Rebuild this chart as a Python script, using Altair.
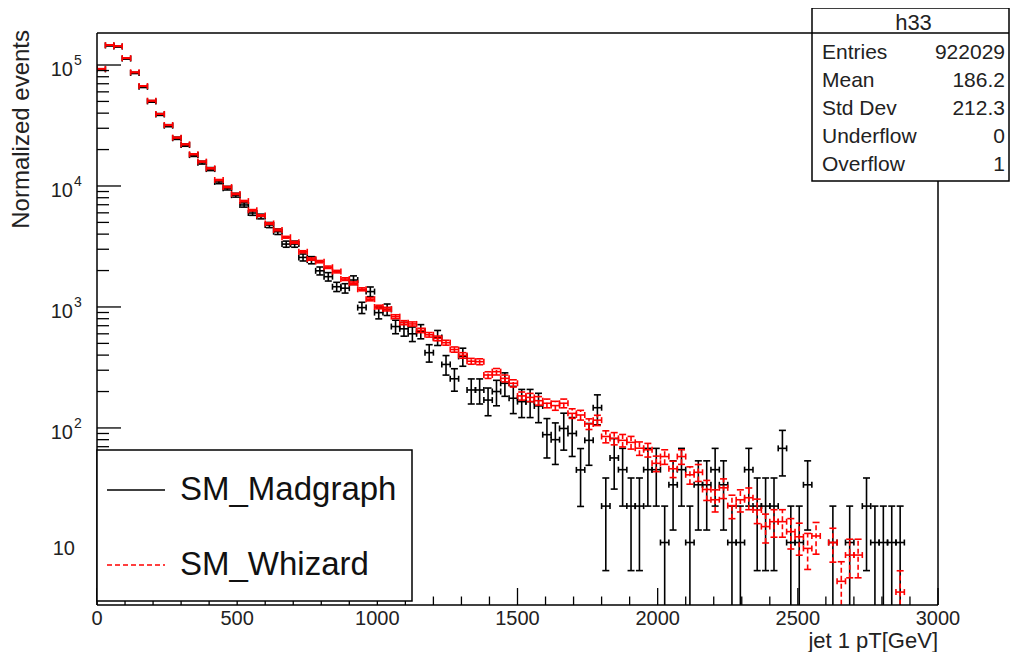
import math
import altair as alt
import pandas as pd

FONT = "Liberation Sans"

# ---------------- data ----------------
BIN_W = 30
centers = [15 + BIN_W * i for i in range(100)]

madgraph = [
    9.2e4, 1.45e5, 1.42e5, 1.13e5, 8.6e4, 6.6e4, 5.0e4, 3.9e4, 3.15e4, 2.48e4,
    2.18e4, 1.80e4, 1.56e4, 1.38e4, 1.08e4, 9.6e3, 8.4e3, 6.97e3, 5.98e3, 5.6e3,
    4.76e3, 4.19e3, 3.31e3, 3.31e3, 2.57e3, 2.44e3, 1.99e3, 1.78e3, 1.47e3, 1.43e3,
    1.67e3, 988, 1.34e3, 898, 954, 689, 660, 600, 630, 419,
    560, 335, 255, 390, 206, 206, 170, 200, 234, 176,
    165, 165, 152, 88, 80, 99, 90, 45, 79, 147,
    22.6, 56.5, 45.2, 22.6, 22.6, 45.2, 45.2, 11.3, 33.9, 45.2,
    11.3, 33.9, 33.9, 45.2, 33.9, 11.3, 11.3, 45.2, 22.6, 22.6,
    22.6, 67.8, 11.3, 11.3, 33.9, 0, 0, 11.3, 0, 11.3,
    0, 22.6, 11.3, 11.3, 11.3, 11.3, 0, 0, 0, 0,
]

whizard = [
    9.3e4, 1.46e5, 1.43e5, 1.14e5, 8.7e4, 6.7e4, 5.07e4, 3.94e4, 3.19e4, 2.51e4,
    2.21e4, 1.83e4, 1.59e4, 1.40e4, 1.12e4, 9.8e3, 8.6e3, 7.5e3, 6.3e3, 5.7e3,
    4.9e3, 4.33e3, 3.77e3, 3.42e3, 2.86e3, 2.49e3, 2.37e3, 2.13e3, 1.96e3, 1.70e3,
    1.57e3, 1.40e3, 1.16e3, 1.0e3, 960, 832, 742, 724, 640, 589,
    550, 507, 445, 398, 356, 353, 274, 292, 257, 234,
    184, 179, 168, 160, 153, 160, 132, 128, 108, 116,
    85, 82, 79, 76, 68, 66, 51, 58, 46, 58,
    41, 43, 31, 25.5, 32, 22.8, 25.5, 26.5, 21, 15.3,
    16.8, 16.8, 13.9, 12.6, 10.1, 12.8, 0, 11.3, 5.4, 8.9,
    8.9, 0, 0, 0, 0, 4.4, 0, 0, 0, 0,
]

W_MAD = 11.3   # per-event weight (error = sqrt(N) * w)
W_WHI = 1.1

x_major = [0, 500, 1000, 1500, 2000, 2500, 3000]
x_major_labels = ["0", "500", "1000", "1500", "2000", "2500", "3000"]
x_minor = [v for v in range(100, 3000, 100) if v % 500 != 0]
y_major = [10, 100, 1000, 10000, 100000]
y_exp = ["", "2", "3", "4", "5"]
y_minor = [m * 10 ** k for k in range(0, 5) for m in range(2, 10) if 3.44 <= m * 10 ** k <= 1.8e5]

stat_names = ["Entries", "Mean", "Std Dev", "Underflow", "Overflow"]
stat_values = ["922029", "186.2", "212.3", "0", "1"]

# ---------------- geometry ----------------
W, H = 841, 572
xscale = alt.Scale(domain=[0, 3000], nice=False, zero=False)
yscale = alt.Scale(type="log", domain=[3.44, 1.839e5], nice=False)


def series_df(vals, w):
    rows = []
    for c, v in zip(centers, vals):
        if v <= 0:
            continue
        e = math.sqrt(v * w)
        lo = v - e
        rows.append(dict(x=c, xl=c - BIN_W / 2, xr=c + BIN_W / 2, v=v,
                         hi=v + e, lo=lo if lo > 0.5 else 0.5))
    return pd.DataFrame(rows)


def hist_layers(df, color, dash):
    base = alt.Chart(df)
    sw = 1.6
    vkw = dict(color=color, strokeWidth=sw, clip=True)
    if dash:
        vkw["strokeDash"] = dash
    layers = [
        base.mark_rule(color=color, strokeWidth=sw, clip=True).encode(
            x=alt.X("xl:Q", scale=xscale, axis=None), x2="xr:Q",
            y=alt.Y("v:Q", scale=yscale, axis=None)),
        base.mark_rule(**vkw).encode(
            x=alt.X("x:Q", scale=xscale, axis=None),
            y=alt.Y("lo:Q", scale=yscale, axis=None), y2="hi:Q"),
    ]
    for fx in ["xl", "xr"]:
        layers.append(base.mark_tick(orient="vertical", size=6, thickness=sw,
                                     color=color, clip=True, opacity=1).encode(
            x=alt.X(f"{fx}:Q", scale=xscale, axis=None),
            y=alt.Y("v:Q", scale=yscale, axis=None)))
    for fy in ["lo", "hi"]:
        layers.append(base.mark_tick(orient="horizontal", size=7, thickness=sw,
                                     color=color, clip=True, opacity=1).encode(
            x=alt.X("x:Q", scale=xscale, axis=None),
            y=alt.Y(f"{fy}:Q", scale=yscale, axis=None)))
    return layers


one = pd.DataFrame({"k": [0]})


def hline(x1, x2, y, color="black", sw=1.5, dash=None):
    kw = dict(color=color, strokeWidth=sw)
    if dash:
        kw["strokeDash"] = dash
    return alt.Chart(one).mark_rule(**kw).encode(
        x=alt.value(x1), x2=alt.value(x2), y=alt.value(y))


def vline(x, y1, y2, color="black", sw=1.5):
    return alt.Chart(one).mark_rule(color=color, strokeWidth=sw).encode(
        x=alt.value(x), y=alt.value(y1), y2=alt.value(y2))


def box(x1, x2, y1, y2):
    return alt.Chart(one).mark_rect(fill="white", stroke="black", strokeWidth=1.5).encode(
        x=alt.value(x1), x2=alt.value(x2), y=alt.value(y1), y2=alt.value(y2))


def label(text, x, y, size, align="left", angle=0, color="black"):
    return alt.Chart(one).mark_text(text=text, align=align, baseline="middle",
                                    font=FONT, fontSize=size, angle=angle,
                                    color=color).encode(x=alt.value(x), y=alt.value(y))


layers = []
layers += hist_layers(series_df(madgraph, W_MAD), "black", None)
layers += hist_layers(series_df(whizard, W_WHI), "#ff0000", [5, 3])

# ticks
layers.append(alt.Chart(pd.DataFrame({"t": x_major})).mark_rule(color="black", strokeWidth=1.3).encode(
    x=alt.X("t:Q", scale=xscale, axis=None), y=alt.value(H), y2=alt.value(H - 17)))
layers.append(alt.Chart(pd.DataFrame({"t": x_minor})).mark_rule(color="black", strokeWidth=1.3).encode(
    x=alt.X("t:Q", scale=xscale, axis=None), y=alt.value(H), y2=alt.value(H - 8.5)))
layers.append(alt.Chart(pd.DataFrame({"t": y_major})).mark_rule(color="black", strokeWidth=1.3).encode(
    y=alt.Y("t:Q", scale=yscale, axis=None), x=alt.value(0), x2=alt.value(24)))
layers.append(alt.Chart(pd.DataFrame({"t": y_minor})).mark_rule(color="black", strokeWidth=1.3).encode(
    y=alt.Y("t:Q", scale=yscale, axis=None), x=alt.value(0), x2=alt.value(12)))

# frame
layers += [hline(0, W, 0), hline(0, W, H), vline(0, 0, H), vline(W, 0, H)]

# x tick labels
layers.append(alt.Chart(pd.DataFrame({"t": x_major, "lab": x_major_labels})).mark_text(
    align="center", baseline="middle", font=FONT, fontSize=20, color="#222").encode(
    x=alt.X("t:Q", scale=xscale, axis=None), y=alt.value(586), text="lab:N"))

# y tick labels (10^k)
ydf = pd.DataFrame({"t": y_major, "e": y_exp})
layers.append(alt.Chart(ydf[ydf.e != ""]).mark_text(
    align="right", baseline="middle", font=FONT, fontSize=20, color="#222", dy=5).encode(
    y=alt.Y("t:Q", scale=yscale, axis=None), x=alt.value(-24), text=alt.value("10")))
layers.append(alt.Chart(ydf[ydf.e != ""]).mark_text(
    align="left", baseline="middle", font=FONT, fontSize=14, color="#222", dy=-4).encode(
    y=alt.Y("t:Q", scale=yscale, axis=None), x=alt.value(-23), text="e:N"))
layers.append(alt.Chart(ydf[ydf.e == ""]).mark_text(
    align="right", baseline="middle", font=FONT, fontSize=20, color="#222").encode(
    y=alt.Y("t:Q", scale=yscale, axis=None), x=alt.value(-22), text=alt.value("10")))

# axis titles
layers.append(label("jet 1 pT[GeV]", W, 608, 22, align="right", color="#222"))
layers.append(label("Normalized events", -75, -3, 24, align="right", angle=270, color="#222"))

# legend
LX2, LY1, LY2 = 315, 417, 568
layers.append(box(0, LX2, LY1, LY2))
layers.append(hline(10, 68, 457, color="black", sw=1.5))
layers.append(hline(10, 68, 532, color="#ff0000", sw=1.5, dash=[5, 3]))
layers.append(label("SM_Madgraph", 83, 457, 33, color="#111"))
layers.append(label("SM_Whizard", 83, 532, 33, color="#111"))

# stats box
SX1, SX2, SY1, SY2 = 715, 912, -25, 148
layers.append(box(SX1, SX2, SY1, SY2))
layers.append(hline(SX1, SX2, 0))
layers.append(label("h33", (SX1 + SX2) / 2 + 3, -10, 22, align="center", color="#222"))
for i, (n, val) in enumerate(zip(stat_names, stat_values)):
    yy = 20 + i * 28
    layers.append(label(n, SX1 + 10, yy, 21, color="#222"))
    layers.append(label(val, SX2 - 4, yy, 21, align="right", color="#222"))

chart = alt.layer(*layers).properties(
    width=W, height=H,
    autosize=alt.AutoSizeParams(type="none"),
    padding={"left": 89, "top": 25, "right": 73, "bottom": 47},
).configure_view(stroke=None)

chart.save("out.html", embed_options={"renderer": "svg", "actions": False})
